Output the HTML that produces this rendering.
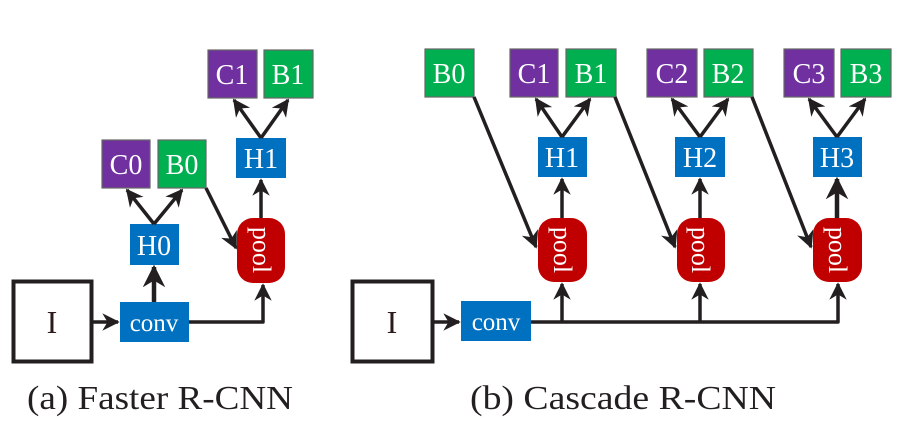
<!DOCTYPE html>
<html><head><meta charset="utf-8"><style>html,body{margin:0;padding:0;background:#fff;}svg{display:block}</style></head><body>
<svg width="912" height="423" viewBox="0 0 912 423" xmlns="http://www.w3.org/2000/svg" font-family="Liberation Serif, serif">
<defs>
<marker id="ah" viewBox="0 0 10 10" refX="9" refY="5" markerWidth="5" markerHeight="5" orient="auto" markerUnits="strokeWidth"><path d="M0,0 L10,5 L0,10 L3,5 z" fill="#231f20"/></marker>
</defs>
<g stroke="#231f20" stroke-width="3.5" fill="none">
<rect x="13.5" y="281.5" width="78" height="80" stroke-width="4"/>
<rect x="352.5" y="281.5" width="80" height="80" stroke-width="4"/>
</g>
<g font-size="32" fill="#2a1a1a" text-anchor="middle">
<text x="52" y="333">I</text><text x="392" y="333">I</text>
</g>
<g stroke="#666" stroke-width="1.2">
<rect x="208" y="50" width="49" height="48" fill="#7030a0"/>
<rect x="264" y="50" width="49" height="48" fill="#00b050"/>
<rect x="102" y="140" width="48" height="48" fill="#7030a0"/>
<rect x="158" y="140" width="48" height="48" fill="#00b050"/>
<rect x="425" y="49" width="49" height="48" fill="#00b050"/>
<rect x="510" y="49" width="48" height="48" fill="#7030a0"/>
<rect x="566" y="49" width="50" height="48" fill="#00b050"/>
<rect x="647" y="49" width="50" height="48" fill="#7030a0"/>
<rect x="704" y="49" width="49" height="48" fill="#00b050"/>
<rect x="784" y="49" width="50" height="48" fill="#7030a0"/>
<rect x="841" y="49" width="50" height="48" fill="#00b050"/>
</g>
<g fill="#0070c0">
<rect x="236" y="138" width="50" height="40"/>
<rect x="130" y="224" width="49" height="41"/>
<rect x="120" y="302" width="69" height="40"/>
<rect x="538" y="137" width="49" height="40"/>
<rect x="675" y="137" width="50" height="40"/>
<rect x="813" y="137" width="49" height="40"/>
<rect x="461" y="301" width="70" height="40"/>
</g>
<g fill="#c00000">
<rect x="237" y="218" width="48" height="65" rx="16"/>
<rect x="538" y="218" width="49" height="64" rx="16"/>
<rect x="677" y="218" width="48" height="64" rx="16"/>
<rect x="813" y="218" width="49" height="64" rx="16"/>
</g>
<g font-size="28" fill="#fff" text-anchor="middle">
<text x="232" y="84">C1</text><text x="288" y="84">B1</text>
<text x="126" y="174">C0</text><text x="182" y="174">B0</text>
<text x="449" y="83">B0</text><text x="534" y="83">C1</text><text x="591" y="83">B1</text>
<text x="672" y="83">C2</text><text x="728" y="83">B2</text>
<text x="809" y="83">C3</text><text x="866" y="83">B3</text>
<text x="261" y="168">H1</text><text x="154" y="255">H0</text>
<text x="562" y="167">H1</text><text x="700" y="167">H2</text><text x="837" y="167">H3</text>
<text x="154" y="331" font-size="25">conv</text><text x="496" y="330" font-size="25">conv</text>
</g>
<g font-size="26" fill="#fff" text-anchor="middle">
<text transform="translate(253,250) rotate(90)">pool</text>
<text transform="translate(554,250) rotate(90)">pool</text>
<text transform="translate(692,250) rotate(90)">pool</text>
<text transform="translate(829,250) rotate(90)">pool</text>
</g>
<g stroke="#231f20" stroke-width="3.5" fill="none" stroke-linejoin="round">
<line x1="93" y1="322" x2="118" y2="322" marker-end="url(#ah)"/>
<line x1="154" y1="302" x2="154" y2="267" marker-end="url(#ah)" stroke-width="4.5"/>
<path d="M189,322 H263 V285" marker-end="url(#ah)"/>
<line x1="154" y1="224" x2="127" y2="190" marker-end="url(#ah)"/>
<line x1="154" y1="224" x2="182" y2="190" marker-end="url(#ah)"/>
<line x1="261" y1="218" x2="261" y2="180" marker-end="url(#ah)"/>
<line x1="261" y1="138" x2="234" y2="100" marker-end="url(#ah)"/>
<line x1="261" y1="138" x2="288" y2="100" marker-end="url(#ah)"/>
<line x1="206" y1="188" x2="236" y2="248" marker-end="url(#ah)"/>
<line x1="433" y1="322" x2="459" y2="322" marker-end="url(#ah)"/>
<path d="M531,322 H838 V284" marker-end="url(#ah)"/>
<line x1="562" y1="322" x2="562" y2="284" marker-end="url(#ah)"/>
<line x1="700" y1="322" x2="700" y2="284" marker-end="url(#ah)"/>
<line x1="562" y1="218" x2="562" y2="179" marker-end="url(#ah)"/>
<line x1="700" y1="218" x2="700" y2="179" marker-end="url(#ah)"/>
<line x1="837" y1="218" x2="837" y2="179" marker-end="url(#ah)" stroke-width="4.5"/>
<line x1="562" y1="137" x2="536" y2="99" marker-end="url(#ah)"/>
<line x1="562" y1="137" x2="590" y2="99" marker-end="url(#ah)"/>
<line x1="700" y1="137" x2="672" y2="99" marker-end="url(#ah)"/>
<line x1="700" y1="137" x2="728" y2="99" marker-end="url(#ah)"/>
<line x1="837" y1="137" x2="809" y2="99" marker-end="url(#ah)"/>
<line x1="837" y1="137" x2="865" y2="99" marker-end="url(#ah)"/>
<line x1="474" y1="97" x2="536" y2="247" marker-end="url(#ah)"/>
<line x1="615" y1="97" x2="675" y2="247" marker-end="url(#ah)"/>
<line x1="752" y1="97" x2="811" y2="247" marker-end="url(#ah)"/>
</g>
<g font-size="34" fill="#231f20">
<text x="27" y="409" textLength="266" lengthAdjust="spacingAndGlyphs">(a) Faster R-CNN</text>
<text x="470" y="409" textLength="306" lengthAdjust="spacingAndGlyphs">(b) Cascade R-CNN</text>
</g>
</svg>
</body></html>
